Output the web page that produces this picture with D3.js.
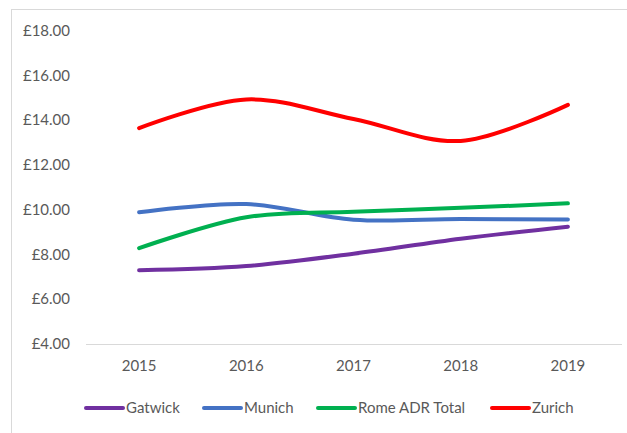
<!DOCTYPE html>
<html>
<head>
<meta charset="utf-8">
<script src="https://cdn.jsdelivr.net/npm/d3@7"></script>
<style>
  body { margin: 0; background: #fff; }
  text { font-family: Lato, "Liberation Sans", sans-serif; fill: #595959; }
</style>
</head>
<body>
<div class="chart"></div>
<script>
var years = ['2015', '2016', '2017', '2018', '2019'];
var gatwick = [7.29, 7.48, 8.03, 8.70, 9.24];
var munich = [9.88, 10.25, 9.55, 9.58, 9.56];
var rome = [8.28, 9.66, 9.91, 10.08, 10.28];
var zurich = [13.64, 14.92, 14.05, 13.07, 14.68];
var yTicks = [4, 6, 8, 10, 12, 14, 16, 18];

var series = [
  {name: 'Gatwick', values: gatwick, color: '#7030a0'},
  {name: 'Munich', values: munich, color: '#4472c4'},
  {name: 'Rome ADR Total', values: rome, color: '#00b050'},
  {name: 'Zurich', values: zurich, color: '#ff0000'}
];

var w = 627,
    h = 433;

var svg = d3.select('.chart').append('svg').attr('width', w).attr('height', h);

// outer chart border (runs off the right and bottom edge)
svg.append('rect')
  .attr('x', 11.5).attr('y', 9.5)
  .attr('width', 640).attr('height', 440)
  .attr('fill', 'none').attr('stroke', '#d9d9d9');

var x = d3.scaleBand().domain(years).range([85.5, 621.5]);
var y = d3.scaleLinear().domain([4, 18]).range([344, 30.5]);

// y labels
svg.append('g').selectAll('text')
  .data(yTicks)
  .enter()
  .append('text')
  .attr('x', 70)
  .attr('y', function (d) { return y(d); })
  .attr('dy', '0.35em')
  .attr('text-anchor', 'end')
  .style('font-size', '15px')
  .text(function (d) { return '£' + d.toFixed(2); });

// x axis
var xAxis = svg.append('g')
  .attr('transform', 'translate(0,' + y(4) + ')')
  .call(d3.axisBottom(x).tickSize(0).tickPadding(16));
xAxis.select('.domain').attr('stroke', '#d9d9d9').attr('stroke-width', 1);
xAxis.selectAll('text').style('font-size', '15px').attr('fill', '#595959')
  .style('font-family', 'Lato, "Liberation Sans", sans-serif');

var line = d3.line()
  .x(function (d, i) { return x(years[i]) + x.bandwidth() / 2; })
  .y(function (d) { return y(d); })
  .curve(d3.curveCatmullRom.alpha(0));

svg.append('g').selectAll('path')
  .data(series)
  .enter()
  .append('path')
  .attr('d', function (s) { return line(s.values); })
  .attr('fill', 'none')
  .attr('stroke', function (s) { return s.color; })
  .attr('stroke-width', 4)
  .attr('stroke-linecap', 'round');

// legend
var legendX = [84, 202, 316, 490];
var lg = svg.append('g').selectAll('g')
  .data(series)
  .enter()
  .append('g')
  .attr('transform', function (s, i) { return 'translate(' + legendX[i] + ',408)'; });
lg.append('line')
  .attr('x1', 2).attr('x2', 39)
  .attr('stroke', function (s) { return s.color; })
  .attr('stroke-width', 4)
  .attr('stroke-linecap', 'round');
lg.append('text')
  .attr('x', 42)
  .attr('dy', '0.35em')
  .style('font-size', '15px')
  .text(function (s) { return s.name; });
</script>
</body>
</html>
